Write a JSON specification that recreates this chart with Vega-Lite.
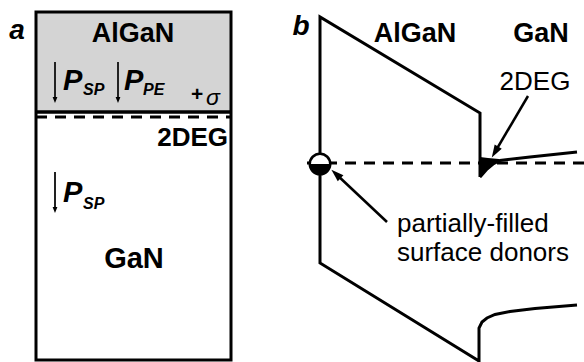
{
  "$schema": "https://vega.github.io/schema/vega-lite/v6.json",
  "width": 584,
  "height": 362,
  "autosize": {"type": "none"},
  "padding": 0,
  "background": "white",
  "config": {"view": {"stroke": null}, "text": {"font": "Liberation Sans", "color": "black"}},
  "encoding": {
    "x": {"field": "x", "type": "quantitative", "scale": {"domain": [0, 584], "nice": false, "zero": false}, "axis": null},
    "y": {"field": "y", "type": "quantitative", "scale": {"domain": [0, 362], "nice": false, "zero": false, "reverse": true}, "axis": null}
  },
  "layer": [
    {
      "data": {"values": [{"x": 36, "y": 12, "x2": 231, "y2": 112}]},
      "mark": {"type": "rect", "color": "#d4d4d4"},
      "encoding": {"x2": {"field": "x2"}, "y2": {"field": "y2"}}
    },
    {
      "data": {"values": [{"x": 36, "y": 12, "x2": 231, "y2": 360}]},
      "mark": {"type": "rect", "filled": false, "color": "black", "strokeWidth": 3},
      "encoding": {"x2": {"field": "x2"}, "y2": {"field": "y2"}}
    },
    {
      "data": {"values": [{"x": 36, "x2": 231, "y": 112}]},
      "mark": {"type": "rule", "color": "black", "strokeWidth": 3.5},
      "encoding": {"x2": {"field": "x2"}}
    },
    {
      "data": {"values": [{"x": 36, "x2": 231, "y": 117}, {"x": 307, "x2": 584, "y": 163}]},
      "mark": {"type": "rule", "color": "black", "strokeWidth": 3, "strokeDash": [11, 8]},
      "encoding": {"x2": {"field": "x2"}}
    },
    {
      "data": {"values": [
        {"g": "band", "o": 0, "x": 480, "y": 177},
        {"g": "band", "o": 1, "x": 480, "y": 113},
        {"g": "band", "o": 2, "x": 320, "y": 17},
        {"g": "band", "o": 3, "x": 320, "y": 263},
        {"g": "band", "o": 4, "x": 479, "y": 361},
        {"g": "band", "o": 5, "x": 479, "y": 328},
        {"g": "band", "o": 6, "x": 482, "y": 322},
        {"g": "band", "o": 7, "x": 487, "y": 318},
        {"g": "band", "o": 8, "x": 495, "y": 314.5},
        {"g": "band", "o": 9, "x": 510, "y": 311.5},
        {"g": "band", "o": 10, "x": 535, "y": 308.5},
        {"g": "band", "o": 11, "x": 577, "y": 305},
        {"g": "deg", "o": 0, "x": 480, "y": 177},
        {"g": "deg", "o": 1, "x": 487, "y": 169},
        {"g": "deg", "o": 2, "x": 493, "y": 164},
        {"g": "deg", "o": 3, "x": 500, "y": 160.5},
        {"g": "deg", "o": 4, "x": 530, "y": 157},
        {"g": "deg", "o": 5, "x": 577, "y": 152}
      ]},
      "mark": {"type": "line", "color": "black", "strokeWidth": 3, "strokeJoin": "miter"},
      "encoding": {"detail": {"field": "g"}, "order": {"field": "o", "type": "quantitative"}}
    },
    {
      "data": {"values": [
        {"x": 480, "y": 178, "y2": 157},
        {"x": 488, "y": 169, "y2": 158},
        {"x": 499, "y": 161, "y2": 159}
      ]},
      "mark": {"type": "area", "color": "black"},
      "encoding": {"y2": {"field": "y2"}}
    },
    {
      "data": {"values": [
        {"x": 55, "y": 62, "x2": 55, "y2": 100},
        {"x": 118, "y": 62, "x2": 118, "y2": 100},
        {"x": 55, "y": 172, "x2": 55, "y2": 210}
      ]},
      "mark": {"type": "rule", "color": "#222222", "strokeWidth": 2},
      "encoding": {"x2": {"field": "x2"}, "y2": {"field": "y2"}}
    },
    {
      "data": {"values": [
        {"x": 528, "y": 96, "x2": 495, "y2": 152},
        {"x": 387, "y": 222, "x2": 336, "y2": 174}
      ]},
      "mark": {"type": "rule", "color": "black", "strokeWidth": 2.5},
      "encoding": {"x2": {"field": "x2"}, "y2": {"field": "y2"}}
    },
    {
      "data": {"values": [
        {"x": 55, "y": 62, "x2": 55, "y2": 100},
        {"x": 118, "y": 62, "x2": 118, "y2": 100},
        {"x": 55, "y": 172, "x2": 55, "y2": 210}
      ]},
      "transform": [{"calculate": "atan2(datum.y2 - datum.y, datum.x2 - datum.x) * 180 / PI + 90", "as": "ang"}],
      "mark": {"type": "point", "shape": "M0,-1L-0.8,1L0.8,1Z", "filled": true, "color": "black", "opacity": 1, "size": 36},
      "encoding": {"x": {"field": "x2", "type": "quantitative"}, "y": {"field": "y2", "type": "quantitative"}, "angle": {"field": "ang", "type": "quantitative", "scale": null}}
    },
    {
      "data": {"values": [
        {"x": 528, "y": 96, "x2": 495, "y2": 152},
        {"x": 387, "y": 222, "x2": 336, "y2": 174}
      ]},
      "transform": [{"calculate": "atan2(datum.y2 - datum.y, datum.x2 - datum.x) * 180 / PI + 90", "as": "ang"}],
      "mark": {"type": "point", "shape": "M0,-1L-0.65,1L0.65,1Z", "filled": true, "color": "black", "opacity": 1, "size": 160},
      "encoding": {"x": {"field": "x2", "type": "quantitative"}, "y": {"field": "y2", "type": "quantitative"}, "angle": {"field": "ang", "type": "quantitative", "scale": null}}
    },
    {
      "data": {"values": [{"x": 320, "y": 164}]},
      "mark": {"type": "point", "shape": "circle", "filled": true, "fill": "white", "stroke": "black", "strokeWidth": 2.5, "opacity": 1, "size": 420}
    },
    {
      "data": {"values": [{"x": 320, "y": 164}]},
      "mark": {"type": "point", "shape": "M-1,0A1,1,0,0,0,1,0Z", "filled": true, "color": "black", "opacity": 1, "size": 440}
    },
    {
      "data": {"values": [{"x": 133, "y": 34, "t": "AlGaN"}, {"x": 415, "y": 34, "t": "AlGaN"}, {"x": 541, "y": 34, "t": "GaN"}]},
      "mark": {"type": "text", "fontWeight": "bold", "fontSize": 27, "align": "center", "baseline": "middle"},
      "encoding": {"text": {"field": "t"}}
    },
    {
      "data": {"values": [{"x": 134, "y": 259, "t": "GaN"}]},
      "mark": {"type": "text", "fontWeight": "bold", "fontSize": 29, "align": "center", "baseline": "middle"},
      "encoding": {"text": {"field": "t"}}
    },
    {
      "data": {"values": [{"x": 228, "y": 138, "t": "2DEG"}]},
      "mark": {"type": "text", "fontWeight": "bold", "fontSize": 26, "align": "right", "baseline": "middle"},
      "encoding": {"text": {"field": "t"}}
    },
    {
      "data": {"values": [{"x": 17, "y": 31, "t": "a"}, {"x": 301, "y": 27, "t": "b"}]},
      "mark": {"type": "text", "fontWeight": "bold", "fontStyle": "italic", "fontSize": 28, "align": "center", "baseline": "middle"},
      "encoding": {"text": {"field": "t"}}
    },
    {
      "data": {"values": [{"x": 63, "y": 81, "t": "P"}, {"x": 124, "y": 81, "t": "P"}, {"x": 63, "y": 193, "t": "P"}]},
      "mark": {"type": "text", "fontWeight": "bold", "fontStyle": "italic", "fontSize": 29, "align": "left", "baseline": "middle"},
      "encoding": {"text": {"field": "t"}}
    },
    {
      "data": {"values": [{"x": 83, "y": 90, "t": "SP"}, {"x": 143, "y": 90, "t": "PE"}, {"x": 83, "y": 204, "t": "SP"}]},
      "mark": {"type": "text", "fontWeight": "bold", "fontStyle": "italic", "fontSize": 16, "align": "left", "baseline": "middle"},
      "encoding": {"text": {"field": "t"}}
    },
    {
      "data": {"values": [{"x": 197, "y": 95, "t": "+"}]},
      "mark": {"type": "text", "fontWeight": "bold", "fontSize": 21, "align": "center", "baseline": "middle"},
      "encoding": {"text": {"field": "t"}}
    },
    {
      "data": {"values": [{"x": 213, "y": 98, "t": "σ"}]},
      "mark": {"type": "text", "fontStyle": "italic", "fontSize": 23, "align": "center", "baseline": "middle"},
      "encoding": {"text": {"field": "t"}}
    },
    {
      "data": {"values": [{"x": 535, "y": 82, "t": "2DEG"}]},
      "mark": {"type": "text", "fontSize": 26, "align": "center", "baseline": "middle"},
      "encoding": {"text": {"field": "t"}}
    },
    {
      "data": {"values": [{"x": 397, "y": 224, "t": "partially-filled"}, {"x": 397, "y": 253, "t": "surface donors"}]},
      "mark": {"type": "text", "fontSize": 26, "align": "left", "baseline": "middle"},
      "encoding": {"text": {"field": "t"}}
    }
  ]
}
